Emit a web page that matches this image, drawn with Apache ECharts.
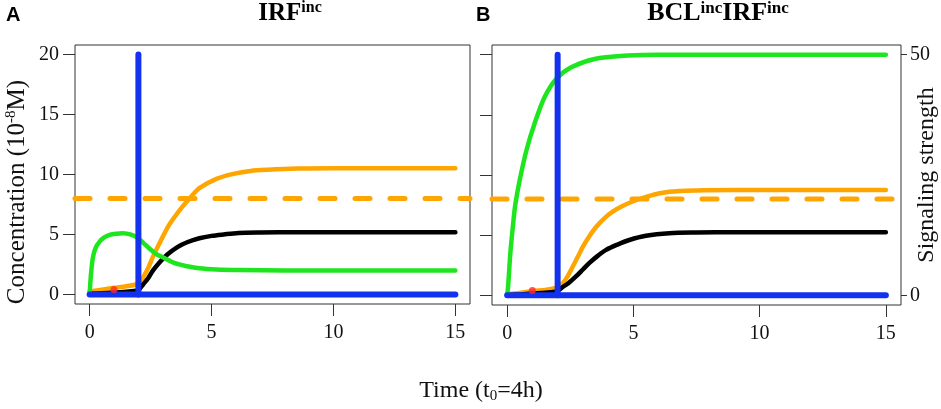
<!DOCTYPE html>
<html>
<head>
<meta charset="utf-8">
<script src="https://cdn.jsdelivr.net/npm/echarts@6/dist/echarts.min.js"></script>
<style>
html,body{margin:0;padding:0;background:#fff;}
#c{width:941px;height:409px;}
</style>
</head>
<body>
<div id="c"></div>
<script>
// ---------- data (time, value) ----------
const xTicks = [0, 5, 10, 15];
const yTicks = [0, 5, 10, 15, 20];
const rightTicks = [0, 50];
const threshold = 8;
const stimulusTime = 2;
const stimulusHeight = 20;
const tEnd = 15;

const orangeA = [[0,0.25],[0.5,0.4],[1,0.55],[1.5,0.68],[1.9,0.83],[2.0,0.92],[2.2,1.45],[2.4,2.2],[2.6,3.15],[2.9,4.4],[3.2,5.6],[3.5,6.5],[3.8,7.3],[4.1,8.0],[4.5,8.86],[5.2,9.64],[5.9,10.05],[6.6,10.3],[7.3,10.4],[8.5,10.5],[10,10.53],[15,10.53]];
const blackA  = [[0,0.05],[0.5,0.1],[1,0.15],[1.5,0.22],[1.9,0.3],[2.0,0.35],[2.2,0.85],[2.4,1.35],[2.6,2.0],[2.9,2.75],[3.2,3.35],[3.6,3.95],[4.0,4.35],[4.5,4.68],[5,4.88],[5.5,5.0],[6.1,5.12],[7,5.16],[8.5,5.18],[15,5.18]];
const greenA  = [[0,0],[0.03,1.0],[0.07,2.0],[0.14,3.15],[0.25,3.9],[0.41,4.4],[0.6,4.75],[0.82,4.96],[1.1,5.06],[1.36,5.1],[1.7,4.98],[1.98,4.7],[2.2,4.3],[2.45,3.83],[2.7,3.4],[3.0,3.1],[3.5,2.6],[4.0,2.35],[4.5,2.18],[5.2,2.08],[6.14,2.03],[8,2.0],[15,2.0]];
const redA    = [[1,0.4]];

const orangeB = [[0,0.1],[0.5,0.2],[1,0.35],[1.5,0.45],[1.8,0.55],[2.0,0.7],[2.2,1.0],[2.4,1.6],[2.6,2.4],[2.8,3.2],[3.0,4.05],[3.25,4.9],[3.53,5.7],[3.85,6.4],[4.18,6.95],[4.55,7.4],[4.97,7.8],[5.6,8.25],[6.42,8.6],[7.5,8.72],[9,8.75],[15,8.75]];
const blackB  = [[0,0.02],[0.5,0.08],[1,0.15],[1.5,0.22],[1.9,0.3],[2.0,0.35],[2.2,0.7],[2.45,1.05],[2.74,1.6],[3.0,2.15],[3.26,2.7],[3.6,3.3],[3.92,3.78],[4.35,4.2],[4.84,4.6],[5.5,4.95],[6.42,5.16],[7.5,5.22],[9,5.25],[15,5.25]];
const greenB  = [[0,0],[0.04,0.8],[0.13,3.6],[0.24,6.0],[0.32,7.5],[0.5,9.6],[0.77,12.1],[1.09,14.3],[1.49,16.5],[1.95,18.0],[2.54,18.95],[3.46,19.64],[4.78,19.92],[6,20],[15,20]];
const redB    = [[1,0.4]];

// ---------- styling ----------
const SERIF = 'Liberation Serif';
const C = {orange:'#ffa500', black:'#000000', green:'#1ee61e', blue:'#1232f0', red:'#ff2a2a', axis:'#333333'};
const XMIN = -0.6, XMAX = 15.6, YMIN = -0.8, YMAX = 20.8;

function xAxis(g){
  return {type:'value', gridIndex:g, min:XMIN, max:XMAX,
    axisLine:{show:false, onZero:false}, splitLine:{show:false},
    axisTick:{show:true, customValues:xTicks, length:12, lineStyle:{color:C.axis,width:1}},
    axisLabel:{show:true, customValues:xTicks, fontFamily:SERIF, fontSize:20, color:'#111', margin:19}};
}
function yAxisLeft(g, labels){
  return {type:'value', gridIndex:g, position:'left', min:YMIN, max:YMAX,
    axisLine:{show:false, onZero:false}, splitLine:{show:false},
    axisTick:{show:true, customValues:yTicks, length:12, lineStyle:{color:C.axis,width:1}},
    axisLabel:{show:labels, customValues:yTicks, fontFamily:SERIF, fontSize:20, color:'#111', margin:16}};
}
function lineSeries(g, data, color, width, extra){
  return Object.assign({type:'line', xAxisIndex:g, yAxisIndex:g===0?0:1, data:data,
    showSymbol:false, symbol:'none', smooth:0.3, clip:true, silent:true,
    lineStyle:{color:color, width:width, cap:'round', join:'round'}}, extra||{});
}
function panelSeries(g, orange, black, green, red){
  return [
    lineSeries(g, [[XMIN,threshold],[XMAX,threshold]], C.orange, 5, {smooth:false, lineStyle:{color:C.orange,width:5,type:[15,20],cap:'round'}}),
    lineSeries(g, orange, C.orange, 4.5),
    lineSeries(g, black, C.black, 4.5),
    lineSeries(g, green, C.green, 4.5),
    lineSeries(g, [[0,0],[tEnd,0]], C.blue, 6, {smooth:false}),
    lineSeries(g, [[stimulusTime,0],[stimulusTime,stimulusHeight]], C.blue, 6, {smooth:false}),
    {type:'scatter', xAxisIndex:g, yAxisIndex:g===0?0:1, data:red, symbol:'circle', symbolSize:7,
     itemStyle:{color:C.red}, silent:true, z:3}
  ];
}

const chart = echarts.init(document.getElementById('c'), null, {renderer:'canvas'});
chart.setOption({
  animation:false,
  backgroundColor:'#ffffff',
  grid:[
    {left:75, top:45, width:395, height:259, show:true, borderColor:C.axis, borderWidth:1, backgroundColor:'transparent', containLabel:false},
    {left:492, top:45, width:409, height:260, show:true, borderColor:C.axis, borderWidth:1, backgroundColor:'transparent', containLabel:false}
  ],
  xAxis:[xAxis(0), xAxis(1)],
  yAxis:[
    yAxisLeft(0, true),
    yAxisLeft(1, false),
    {type:'value', gridIndex:1, position:'right', min:-2, max:52,
     axisLine:{show:false, onZero:false}, splitLine:{show:false},
     axisTick:{show:true, customValues:rightTicks, length:6, lineStyle:{color:C.axis,width:1}},
     axisLabel:{show:true, customValues:rightTicks, fontFamily:SERIF, fontSize:20, color:'#111', margin:9}}
  ],
  series:[].concat(panelSeries(0, orangeA, blackA, greenA, redA), panelSeries(1, orangeB, blackB, greenB, redB)),
  graphic:[
    {type:'text', x:6, y:15, style:{text:'A', font:'bold 20px "Liberation Sans"', fill:'#000', align:'left', verticalAlign:'middle'}},
    {type:'text', x:476, y:15, style:{text:'B', font:'bold 20px "Liberation Sans"', fill:'#000', align:'left', verticalAlign:'middle'}},
    {type:'text', x:290, y:13, style:{text:'{b|IRF}{s|inc}', align:'center', verticalAlign:'middle',
      rich:{b:{fontFamily:SERIF, fontSize:25, fontWeight:'bold', fill:'#000', lineHeight:26, verticalAlign:'bottom'},
            s:{fontFamily:SERIF, fontSize:16, fontWeight:'bold', fill:'#000', lineHeight:26, verticalAlign:'top'}}}},
    {type:'text', x:718, y:13, style:{text:'{b|BCL}{s|inc}{b|IRF}{s|inc}', align:'center', verticalAlign:'middle',
      rich:{b:{fontFamily:SERIF, fontSize:26, fontWeight:'bold', fill:'#000', lineHeight:26, verticalAlign:'bottom'},
            s:{fontFamily:SERIF, fontSize:17, fontWeight:'bold', fill:'#000', lineHeight:26, verticalAlign:'top'}}}},
    {type:'text', x:17, y:192, rotation:Math.PI/2, style:{text:'{m|Concentration (10}{s|-8}{m|M)}', align:'center', verticalAlign:'middle',
      rich:{m:{fontFamily:SERIF, fontSize:25, fill:'#111', lineHeight:26, verticalAlign:'bottom'},
            s:{fontFamily:SERIF, fontSize:15, fill:'#111', lineHeight:26, verticalAlign:'top'}}}},
    {type:'text', x:927, y:175, rotation:Math.PI/2, style:{text:'Signaling strength', font:'24px "Liberation Serif"', fill:'#111', align:'center', verticalAlign:'middle'}},
    {type:'text', x:481, y:391, style:{text:'{m|Time (t}{s|0}{m|=4h)}', align:'center', verticalAlign:'middle',
      rich:{m:{fontFamily:SERIF, fontSize:24, fill:'#111', lineHeight:26, verticalAlign:'middle'},
            s:{fontFamily:SERIF, fontSize:15, fill:'#111', lineHeight:26, verticalAlign:'bottom'}}}}
  ]
});
</script>
</body>
</html>
